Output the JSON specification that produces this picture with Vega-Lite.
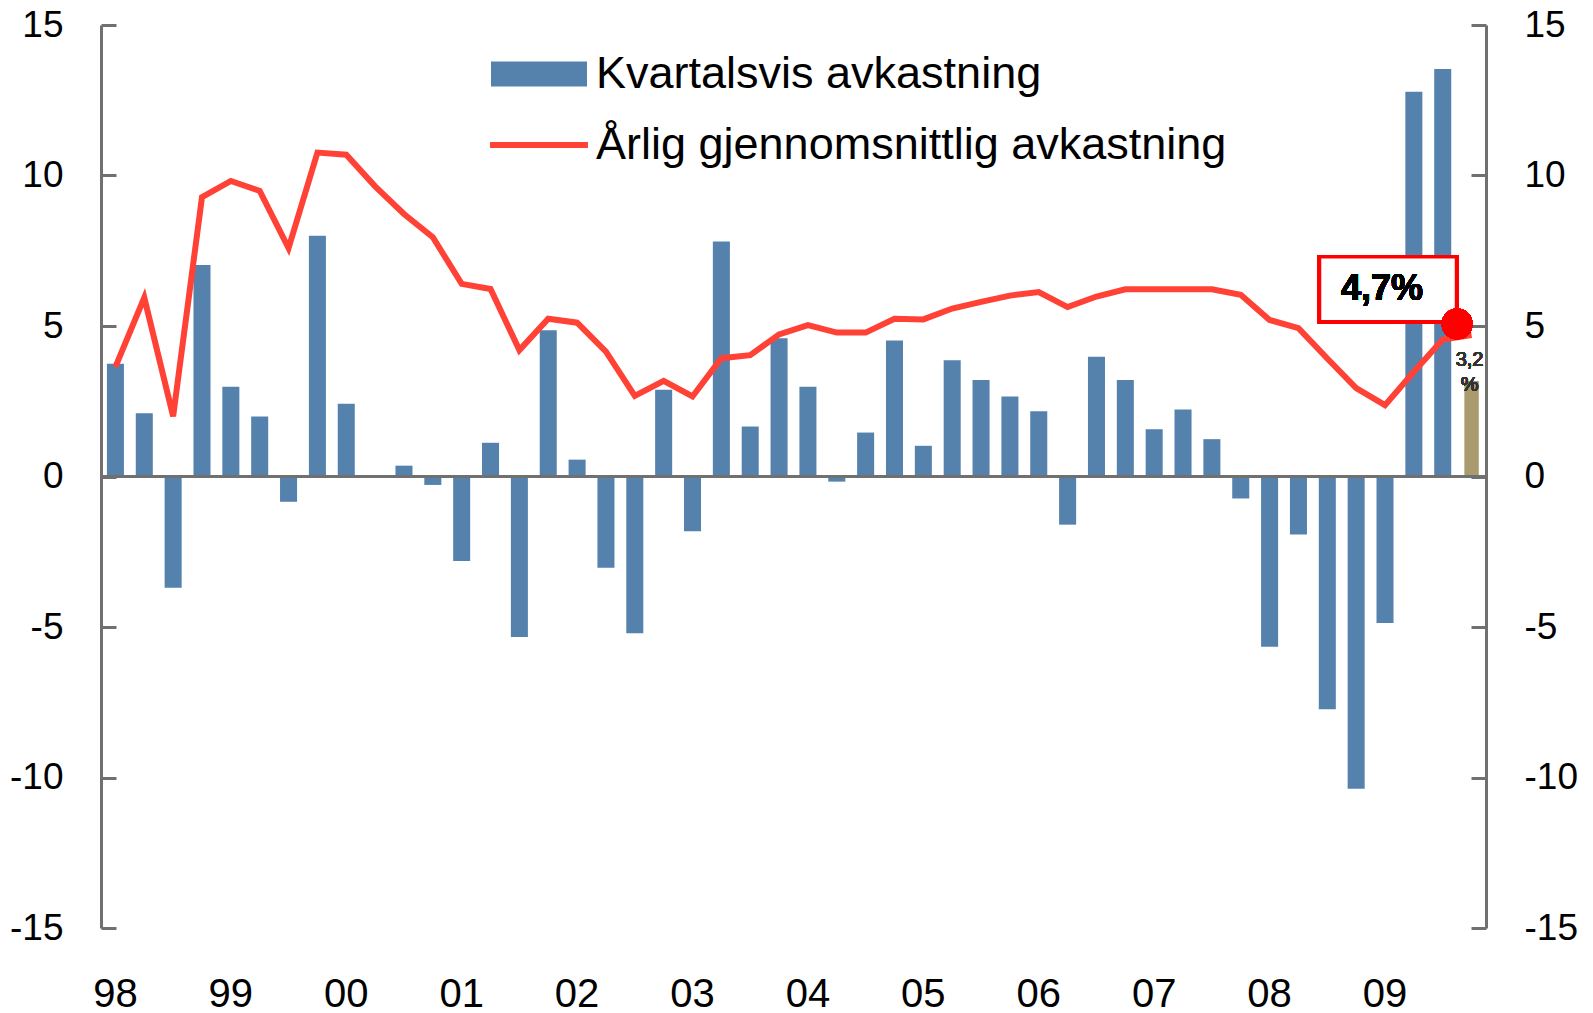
{
  "$schema": "https://vega.github.io/schema/vega-lite/v6.json",
  "width": 1385,
  "height": 903,
  "autosize": {"type": "none"},
  "padding": {"left": 101, "top": 25, "right": 107, "bottom": 85},
  "background": "white",
  "config": {
    "view": {"stroke": null},
    "font": "Liberation Sans",
    "axis": {"grid": false}
  },
  "data": {
    "values": [
      {"q": "1998Q1", "bar": 3.75, "avg": 3.64},
      {"q": "1998Q2", "bar": 2.1, "avg": 5.94},
      {"q": "1998Q3", "bar": -3.7, "avg": 2.0},
      {"q": "1998Q4", "bar": 7.03, "avg": 9.28},
      {"q": "1999Q1", "bar": 2.98, "avg": 9.82},
      {"q": "1999Q2", "bar": 1.99, "avg": 9.49},
      {"q": "1999Q3", "bar": -0.84, "avg": 7.59},
      {"q": "1999Q4", "bar": 8.0, "avg": 10.76},
      {"q": "2000Q1", "bar": 2.42, "avg": 10.69},
      {"q": "2000Q2", "bar": 0.0, "avg": 9.64},
      {"q": "2000Q3", "bar": 0.36, "avg": 8.72},
      {"q": "2000Q4", "bar": -0.28, "avg": 7.95},
      {"q": "2001Q1", "bar": -2.81, "avg": 6.4},
      {"q": "2001Q2", "bar": 1.12, "avg": 6.23},
      {"q": "2001Q3", "bar": -5.33, "avg": 4.2},
      {"q": "2001Q4", "bar": 4.86, "avg": 5.24},
      {"q": "2002Q1", "bar": 0.56, "avg": 5.11},
      {"q": "2002Q2", "bar": -3.03, "avg": 4.15},
      {"q": "2002Q3", "bar": -5.21, "avg": 2.68},
      {"q": "2002Q4", "bar": 2.88, "avg": 3.18},
      {"q": "2003Q1", "bar": -1.82, "avg": 2.66},
      {"q": "2003Q2", "bar": 7.81, "avg": 3.93},
      {"q": "2003Q3", "bar": 1.66, "avg": 4.03},
      {"q": "2003Q4", "bar": 4.59, "avg": 4.72},
      {"q": "2004Q1", "bar": 2.98, "avg": 5.03},
      {"q": "2004Q2", "bar": -0.17, "avg": 4.78},
      {"q": "2004Q3", "bar": 1.46, "avg": 4.78},
      {"q": "2004Q4", "bar": 4.52, "avg": 5.24},
      {"q": "2005Q1", "bar": 1.02, "avg": 5.22},
      {"q": "2005Q2", "bar": 3.86, "avg": 5.58},
      {"q": "2005Q3", "bar": 3.21, "avg": 5.8},
      {"q": "2005Q4", "bar": 2.66, "avg": 6.01},
      {"q": "2006Q1", "bar": 2.17, "avg": 6.13},
      {"q": "2006Q2", "bar": -1.6, "avg": 5.63},
      {"q": "2006Q3", "bar": 3.98, "avg": 5.98},
      {"q": "2006Q4", "bar": 3.21, "avg": 6.22},
      {"q": "2007Q1", "bar": 1.57, "avg": 6.22},
      {"q": "2007Q2", "bar": 2.23, "avg": 6.22},
      {"q": "2007Q3", "bar": 1.24, "avg": 6.22},
      {"q": "2007Q4", "bar": -0.73, "avg": 6.04},
      {"q": "2008Q1", "bar": -5.66, "avg": 5.2},
      {"q": "2008Q2", "bar": -1.93, "avg": 4.93},
      {"q": "2008Q3", "bar": -7.73, "avg": 3.92},
      {"q": "2008Q4", "bar": -10.37, "avg": 2.94},
      {"q": "2009Q1", "bar": -4.87, "avg": 2.37},
      {"q": "2009Q2", "bar": 12.78, "avg": 3.48},
      {"q": "2009Q3", "bar": 13.54, "avg": 4.55},
      {"q": "2009Q4", "bar": 3.17, "avg": 4.7}
    ]
  },
  "resolve": {"axis": {"y": "independent"}},
  "layer": [
    {
      "transform": [{"filter": "datum.q != '2009Q4'"}],
      "mark": {"type": "bar", "width": {"band": 0.59}},
      "encoding": {
        "x": {
          "field": "q", "type": "ordinal", "title": null,
          "scale": {"type": "band", "paddingInner": 0, "paddingOuter": 0},
          "axis": {
            "labelExpr": "indexof(datum.value, 'Q1') > 0 ? substring(datum.value, 2, 4) : ''",
            "domain": false, "ticks": false, "labelAngle": 0,
            "labelFontSize": 40, "labelColor": "black", "labelPadding": 46,
            "labelOverlap": false, "labelFlush": false
          }
        },
        "y": {
          "field": "bar", "type": "quantitative", "title": null,
          "scale": {"domain": [-15, 15], "nice": false},
          "axis": {
            "orient": "left", "values": [-15, -10, -5, 0, 5, 10, 15],
            "labelExpr": "datum.value < 0 ? '-' + abs(datum.value) : '' + datum.value",
            "domainColor": "#707070", "domainWidth": 3,
            "tickColor": "#707070", "tickWidth": 3, "tickSize": -15,
            "labelFontSize": 37, "labelColor": "black", "labelPadding": 53
          }
        },
        "color": {
          "datum": "Kvartalsvis avkastning",
          "scale": {
            "domain": ["Kvartalsvis avkastning", "Årlig gjennomsnittlig avkastning"],
            "range": ["#5581AD", "#FF4136"]
          },
          "legend": {
            "orient": "none", "legendX": 390, "legendY": 1,
            "title": null, "padding": 0,
            "labelFontSize": 45, "labelColor": "black", "labelFont": "Liberation Sans",
            "labelLimit": 1000, "labelOffset": 9,
            "symbolSize": 9216, "rowPadding": -9,
            "encode": {
              "symbols": {
                "update": {
                  "shape": {"signal": "datum.value == 'Kvartalsvis avkastning' ? 'M-1,-0.26H1V0.26H-1Z' : 'M-1.02,-0.065H1.02V0.065H-1.02Z'"},
                  "fill": {"scale": "color", "field": "value"},
                  "strokeWidth": {"value": 0},
                  "opacity": {"value": 1}
                }
              }
            }
          }
        }
      }
    },
    {
      "transform": [{"filter": "datum.q == '2009Q4'"}],
      "mark": {"type": "bar", "width": {"band": 0.5}, "color": "#A99B6E"},
      "encoding": {
        "x": {"field": "q", "type": "ordinal", "title": null},
        "y": {"field": "bar", "type": "quantitative", "axis": null}
      }
    },
    {
      "mark": {"type": "rule", "color": "#707070", "strokeWidth": 3},
      "encoding": {"y": {"datum": 0, "type": "quantitative", "axis": null}}
    },
    {
      "mark": {"type": "line", "strokeWidth": 6},
      "encoding": {
        "x": {"field": "q", "type": "ordinal", "title": null},
        "y": {
          "field": "avg", "type": "quantitative", "title": null,
          "axis": {
            "orient": "right", "values": [-15, -10, -5, 0, 5, 10, 15],
            "labelExpr": "datum.value < 0 ? '-' + abs(datum.value) : '' + datum.value",
            "domainColor": "#707070", "domainWidth": 3,
            "tickColor": "#707070", "tickWidth": 3, "tickSize": -15,
            "labelFontSize": 37, "labelColor": "black", "labelPadding": 53
          }
        },
        "color": {"datum": "Årlig gjennomsnittlig avkastning"}
      }
    },
    {
      "mark": {"type": "rect", "width": 137, "fill": "white", "stroke": "#FF0000", "strokeWidth": 3.5, "xOffset": 3},
      "encoding": {
        "x": {"datum": "2009Q1", "type": "ordinal", "title": null},
        "y": {"datum": 7.3, "type": "quantitative", "axis": null},
        "y2": {"datum": 5.14}
      }
    },
    {
      "mark": {"type": "text", "text": "4,7%", "fontSize": 36, "fontWeight": "bold", "color": "black", "align": "center", "baseline": "middle", "dx": -3},
      "encoding": {
        "x": {"datum": "2009Q1", "type": "ordinal", "title": null},
        "y": {"datum": 6.22, "type": "quantitative", "axis": null}
      }
    },
    {
      "mark": {"type": "point", "filled": true, "size": 950, "color": "#FF0000", "opacity": 1},
      "encoding": {
        "x": {"datum": "2009Q4", "type": "ordinal", "bandPosition": 0, "title": null},
        "y": {"datum": 5.07, "type": "quantitative", "axis": null}
      }
    },
    {
      "mark": {"type": "text", "text": ["3,2", "%"], "fontSize": 20, "color": "#333333", "align": "center", "baseline": "top", "lineHeight": 25, "dx": -2},
      "encoding": {
        "x": {"datum": "2009Q4", "type": "ordinal", "title": null},
        "y": {"datum": 4.19, "type": "quantitative", "axis": null}
      }
    }
  ]
}
